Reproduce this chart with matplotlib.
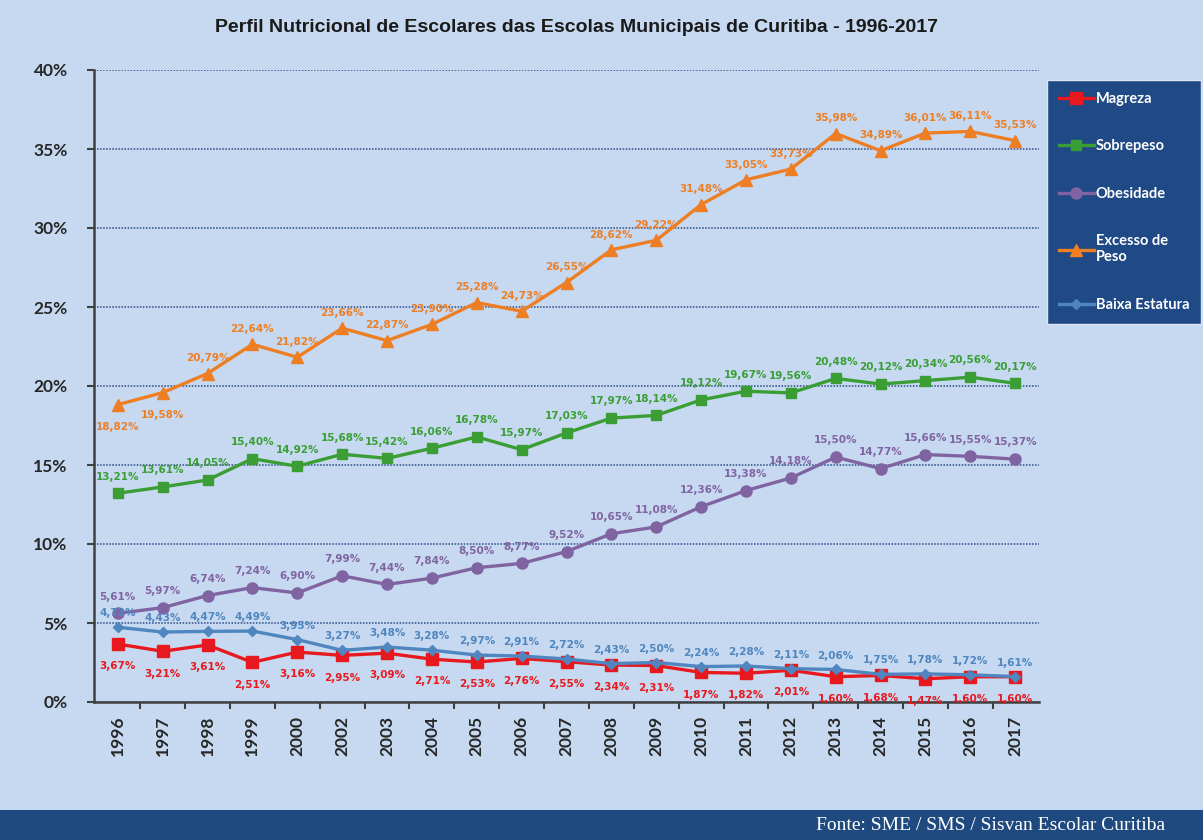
import matplotlib
matplotlib.use("Agg")
import matplotlib.pyplot as plt
from matplotlib.patches import Rectangle

# Dados (percentuais)
years = ["1996", "1997", "1998", "1999", "2000", "2002", "2003", "2004", "2005", "2006", "2007",
         "2008", "2009", "2010", "2011", "2012", "2013", "2014", "2015", "2016", "2017"]
magreza = [3.67, 3.21, 3.61, 2.51, 3.16, 2.95, 3.09, 2.71, 2.53, 2.76, 2.55,
           2.34, 2.31, 1.87, 1.82, 2.01, 1.60, 1.68, 1.47, 1.60, 1.60]
sobrepeso = [13.21, 13.61, 14.05, 15.40, 14.92, 15.68, 15.42, 16.06, 16.78, 15.97, 17.03,
             17.97, 18.14, 19.12, 19.67, 19.56, 20.48, 20.12, 20.34, 20.56, 20.17]
obesidade = [5.61, 5.97, 6.74, 7.24, 6.90, 7.99, 7.44, 7.84, 8.50, 8.77, 9.52,
             10.65, 11.08, 12.36, 13.38, 14.18, 15.50, 14.77, 15.66, 15.55, 15.37]
excesso = [18.82, 19.58, 20.79, 22.64, 21.82, 23.66, 22.87, 23.90, 25.28, 24.73, 26.55,
           28.62, 29.22, 31.48, 33.05, 33.73, 35.98, 34.89, 36.01, 36.11, 35.53]
baixa = [4.73, 4.43, 4.47, 4.49, 3.95, 3.27, 3.48, 3.28, 2.97, 2.91, 2.72,
         2.43, 2.50, 2.24, 2.28, 2.11, 2.06, 1.75, 1.78, 1.72, 1.61]

BG = "#C6D9F0"
NAVY = "#1F4A7F"

fig = plt.figure(figsize=(12.03, 8.40), dpi=100, facecolor=BG)
ax = fig.add_axes([94 / 1203, 1 - 702 / 840, (1039 - 94) / 1203, (702 - 70) / 840])
ax.set_facecolor(BG)

x = list(range(len(years)))

series = [
    ("Magreza", magreza, "#E8191E", "s", 9, -16),
    ("Sobrepeso", sobrepeso, "#3A9E35", "s", 7, 12),
    ("Obesidade", obesidade, "#8064A2", "o", 8, 12),
    ("Excesso de\nPeso", excesso, "#EE7E24", "^", 8, 11),
    ("Baixa Estatura", baixa, "#4F86C0", "D", 5.5, 10),
]

for name, vals, col, mk, ms, dy in series:
    ax.plot(x, vals, color=col, marker=mk, markersize=ms, linewidth=2.4, label=name, zorder=3)
    for i, v in enumerate(vals):
        off = dy
        if name.startswith("Excesso") and i < 2:
            off = -16
        ax.annotate(f"{v:.2f}%".replace(".", ","), (i, v), xytext=(0, off),
                    textcoords="offset points", ha="center", va="center",
                    fontsize=7.5, fontweight="bold", color=col, zorder=4)

ax.set_xlim(-0.53, len(years) - 0.47)
ax.set_ylim(0, 40)
ax.set_yticks(range(0, 41, 5))
ax.set_yticklabels([f"{t}%" for t in range(0, 41, 5)], fontsize=12.5, fontweight="bold",
                   color="#262626", family="Lato")
ax.set_xticks(x)
ax.set_xticklabels(years, rotation=90, fontsize=12.5, fontweight="bold", color="#262626", family="Lato")
ax.tick_params(axis="x", length=0, pad=10)
ax.set_xticks([i + 0.5 for i in x[:-1]], minor=True)
ax.tick_params(axis="x", which="minor", length=5, width=1.5, color="#404040")
ax.tick_params(axis="y", length=5, width=1.5, color="#404040", pad=14)

ax.grid(axis="y", color="#2B4C85", linestyle=(0, (1, 1)), linewidth=1.1)
ax.set_axisbelow(True)
for s in ["top", "right"]:
    ax.spines[s].set_visible(False)
for s in ["left", "bottom"]:
    ax.spines[s].set_color("#404040")
    ax.spines[s].set_linewidth(1.8)

fig.text(0.479, 1 - 28 / 840, "Perfil Nutricional de Escolares das Escolas Municipais de Curitiba - 1996-2017",
         ha="center", va="center", fontsize=14, fontweight="bold", color="#1A1A1A",
         family="Liberation Sans")

leg = ax.legend(loc="upper left", bbox_to_anchor=(1047 / 1203, 1 - 80 / 840),
                bbox_transform=fig.transFigure, facecolor="#1F4A85", edgecolor="#DDE6F2",
                framealpha=1, fancybox=False, labelspacing=2.3, handlelength=2.4,
                handletextpad=0.15, borderpad=0.8, borderaxespad=0,
                prop={"weight": "bold", "size": 10.5, "family": "Lato"})
for t in leg.get_texts():
    t.set_color("white")

# Rodapé
fig.patches.append(Rectangle((0, 0), 1, 30 / 840, transform=fig.transFigure,
                             facecolor=NAVY, edgecolor="none"))
fig.text(1165 / 1203, 14 / 840, "Fonte: SME / SMS / Sisvan Escolar Curitiba", ha="right", va="center",
         fontsize=14, color="white", family="Liberation Serif")

fig.savefig("out.png", dpi=100, facecolor=BG)
